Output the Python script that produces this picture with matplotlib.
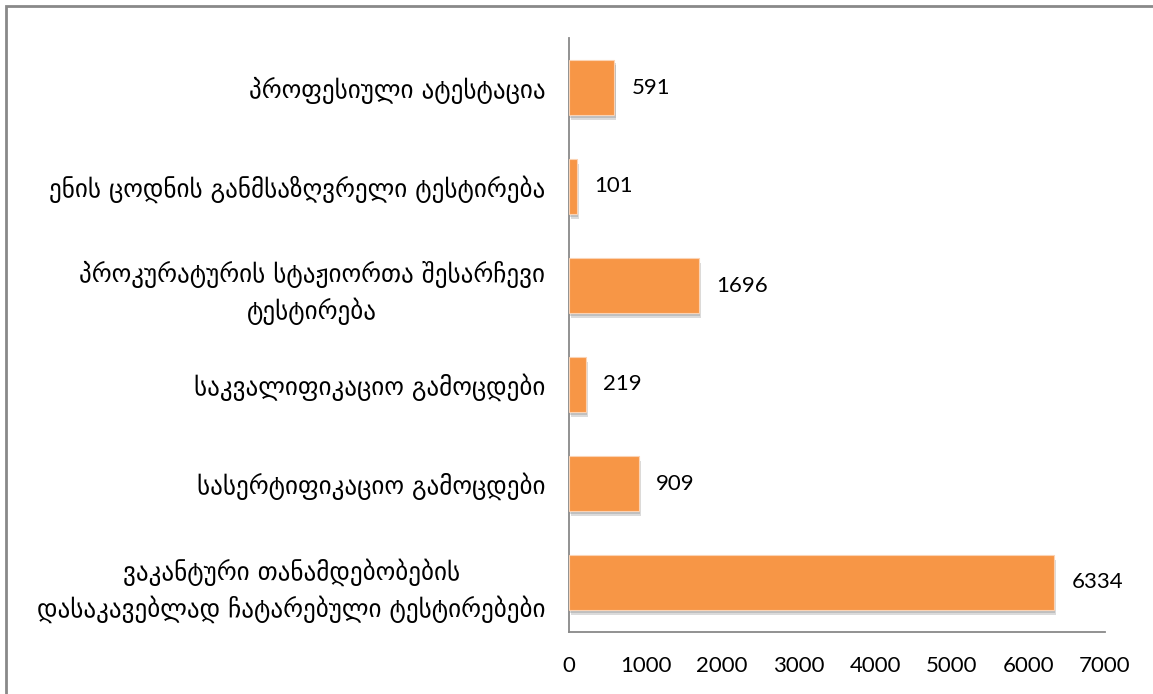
import numpy as np
import matplotlib
matplotlib.use('Agg')
import matplotlib.pyplot as plt
import matplotlib.patheffects as pe
from matplotlib.patches import Rectangle

# data (top to bottom as shown in the chart)
categories = [
    'პროფესიული ატესტაცია',
    'ენის ცოდნის განმსაზღვრელი ტესტირება',
    'პროკურატურის სტაჟიორთა შესარჩევი\nტესტირება',
    'საკვალიფიკაციო გამოცდები',
    'სასერტიფიკაციო გამოცდები',
    'ვაკანტური თანამდებობების\nდასაკავებლად ჩატარებული ტესტირებები',
]
values = [591, 101, 1696, 219, 909, 6334]
xticks = [0, 1000, 2000, 3000, 4000, 5000, 6000, 7000]

bar_color = '#F79646'
grey = '#898989'

plt.rcParams['font.family'] = ['DejaVu Sans']

fig = plt.figure(figsize=(11.53, 6.94), dpi=100)
ax = fig.add_axes([569 / 1153, 1 - 632 / 694, (1105 - 569) / 1153, (632 - 38) / 694])

y = np.arange(len(categories))
bars = ax.barh(y, values, height=0.56, color=bar_color, edgecolor='#fbd3b4', linewidth=0.8, zorder=3)
for b in bars:
    b.set_path_effects([pe.SimplePatchShadow(offset=(1.5, -3.5), shadow_rgbFace='#9a9a9a', alpha=0.35),
                        pe.SimplePatchShadow(offset=(1, -2), shadow_rgbFace='#7f7f7f', alpha=0.3),
                        pe.Normal()])

for yi, v in zip(y, values):
    ax.text(v + 230, yi, str(v), va='center', ha='left', fontsize=16, family=['Lato', 'DejaVu Sans'])

ax.set_ylim(len(categories) - 0.5, -0.5)
ax.set_xlim(0, 7000)
ax.set_xticks(xticks)
ax.set_xticklabels([str(t) for t in xticks], fontsize=16, family=['Lato', 'DejaVu Sans'])
ax.set_yticks(y)
ax.set_yticklabels(categories, fontsize=18, ha='right', multialignment='center', linespacing=1.45)
ax.tick_params(axis='both', length=0)
ax.tick_params(axis='x', pad=17)
ax.tick_params(axis='y', pad=17)

for s in ['top', 'right']:
    ax.spines[s].set_visible(False)
for s in ['left', 'bottom']:
    ax.spines[s].set_color(grey)
    ax.spines[s].set_linewidth(1.3)

# outer frame of the chart area
fig.patches.append(Rectangle((6 / 1153, -0.1), 1.2, 1 - 6 / 694 + 0.1, transform=fig.transFigure,
                             fill=False, edgecolor=grey, linewidth=2))

fig.savefig('out.png', dpi=100)
